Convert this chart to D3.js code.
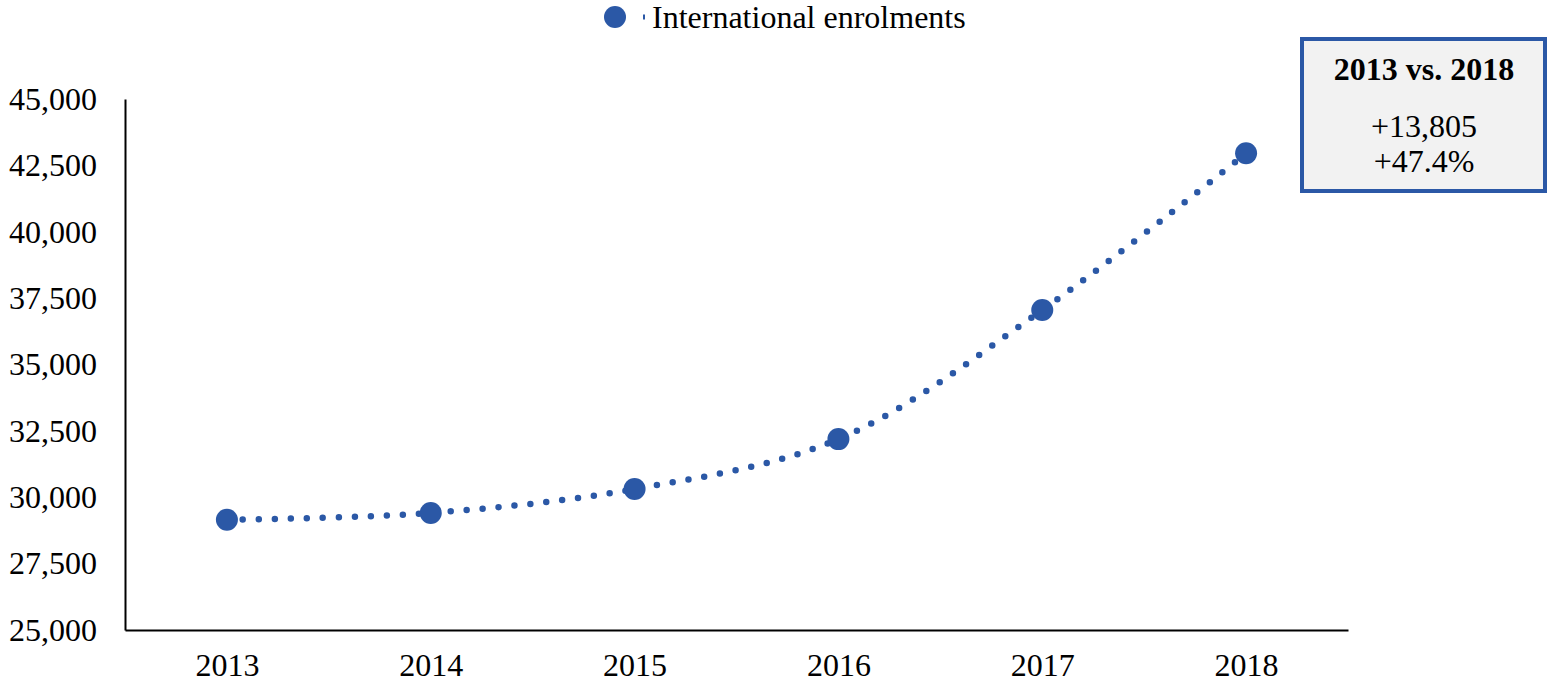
<!DOCTYPE html>
<html>
<head>
<meta charset="utf-8">
<script src="https://cdn.jsdelivr.net/npm/d3@7"></script>
<style>
  body { margin: 0; background: #fff; }
  text { font-family: "Liberation Serif", "DejaVu Serif", serif; fill: #000; }
</style>
</head>
<body>
<div id="chart"></div>
<script>
// chart data
const years = ['2013', '2014', '2015', '2016', '2017', '2018'];
const enrolments = [29150, 29410, 30310, 32190, 37050, 42955];
const yTicks = [25000, 27500, 30000, 32500, 35000, 37500, 40000, 42500, 45000];
const seriesName = 'International enrolments';
const boxTitle = '2013 vs. 2018';
const boxLines = ['+13,805', '+47.4%'];

const width = 1548;
const height = 688;
const margin = { top: 99, right: 200, bottom: 58, left: 125 };
const blue = '#2b58a6';
const fontSize = '32px';

const svg = d3
  .select('#chart')
  .append('svg')
  .attr('width', width)
  .attr('height', height);

const x = d3
  .scalePoint()
  .domain(years)
  .range([margin.left, width - margin.right])
  .padding(0.5);

const y = d3
  .scaleLinear()
  .domain([25000, 45000])
  .range([height - margin.bottom, margin.top]);

// axes
const yAxis = svg
  .append('g')
  .attr('transform', `translate(${margin.left},0)`)
  .call(d3.axisLeft(y).tickValues(yTicks).tickSize(0).tickPadding(28).tickFormat(d3.format(',')));
yAxis.select('.domain').attr('stroke', '#000').attr('stroke-width', 2);
yAxis.selectAll('text').style('font-size', fontSize).style('font-family', '"Liberation Serif", serif');

const xAxis = svg
  .append('g')
  .attr('transform', `translate(0,${height - margin.bottom})`)
  .call(d3.axisBottom(x).tickSize(0).tickPadding(23));
xAxis.select('.domain').attr('stroke', '#000').attr('stroke-width', 2);
xAxis.selectAll('text').style('font-size', fontSize).style('font-family', '"Liberation Serif", serif');

// dotted smooth line
const line = d3
  .line()
  .x((d, i) => x(years[i]))
  .y((d) => y(d))
  .curve(d3.curveCatmullRom.alpha(0.5));

svg
  .append('path')
  .datum(enrolments)
  .attr('d', line)
  .attr('fill', 'none')
  .attr('stroke', blue)
  .attr('stroke-width', 6.5)
  .attr('stroke-linecap', 'round')
  .attr('stroke-dasharray', '0 16');

svg
  .selectAll('.pt')
  .data(enrolments)
  .enter()
  .append('circle')
  .attr('class', 'pt')
  .attr('cx', (d, i) => x(years[i]))
  .attr('cy', (d) => y(d))
  .attr('r', 11)
  .attr('fill', blue);

// legend
const legend = svg.append('g').attr('transform', 'translate(615,17)');
legend.append('circle').attr('r', 11).attr('fill', blue);
legend
  .append('line')
  .attr('x1', 28).attr('x2', 30)
  .attr('y1', 0).attr('y2', 0)
  .attr('stroke', blue)
  .attr('stroke-width', 5);
legend
  .append('text')
  .attr('x', 37)
  .attr('y', 11)
  .style('font-size', fontSize)
  .text(seriesName);

// comparison box
const box = svg.append('g').attr('transform', 'translate(1302,39)');
box
  .append('rect')
  .attr('width', 243)
  .attr('height', 152)
  .attr('fill', '#f2f2f2')
  .attr('stroke', blue)
  .attr('stroke-width', 4);
box
  .append('text')
  .attr('x', 122)
  .attr('y', 41)
  .attr('text-anchor', 'middle')
  .style('font-size', fontSize)
  .style('font-weight', 'bold')
  .text(boxTitle);
box
  .selectAll('.bl')
  .data(boxLines)
  .enter()
  .append('text')
  .attr('class', 'bl')
  .attr('x', 122)
  .attr('y', (d, i) => 98 + i * 35)
  .attr('text-anchor', 'middle')
  .style('font-size', fontSize)
  .text((d) => d);
</script>
</body>
</html>
